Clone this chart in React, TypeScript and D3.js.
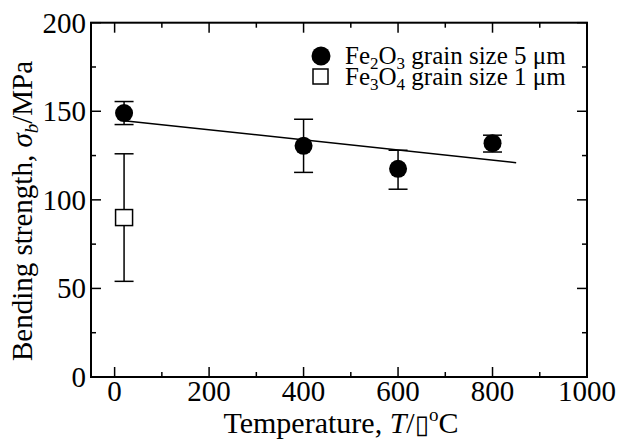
import React from "react";
import * as d3 from "d3";

// Fe2O3, grain size 5 um
const fe2o3Temp = [20, 400, 600, 800];
const fe2o3Strength = [149, 130.5, 117.5, 132];
const fe2o3Low = [142.5, 115.5, 106, 127];
const fe2o3High = [155.5, 145.5, 128, 136.5];

// Fe3O4, grain size 1 um
const fe3o4Temp = [20];
const fe3o4Strength = [90];
const fe3o4Low = [54];
const fe3o4High = [126];

// fitted line for Fe2O3
const fitTemp = [20, 850];
const fitStrength = [144.7, 121];

const xTicks = [0, 200, 400, 600, 800, 1000];
const yTicks = [0, 50, 100, 150, 200];

const W = 619;
const H = 439;
const FONT = "'Liberation Serif', 'Times New Roman', serif";

const App = () => {
  const x = d3.scaleLinear().domain([-50, 1000]).range([91, 587]);
  const y = d3.scaleLinear().domain([0, 200]).range([377, 22.7]);

  const [x0, x1] = x.range();
  const [y0, y1] = y.range();

  const xMinor = d3.range(0, 1001, 100).filter(d => d % 200 !== 0);
  const yMinor = d3.range(0, 201, 25).filter(d => d % 50 !== 0);

  const line = d3.line<number>()
    .x((_, i) => x(fitTemp[i]))
    .y(d => y(d));

  const capW = 9.5;
  const errBar = (t: number, lo: number, hi: number, key: string) => (
    <g key={key} stroke="#000" strokeWidth={1.5}>
      <line x1={x(t)} x2={x(t)} y1={y(lo)} y2={y(hi)} />
      <line x1={x(t) - capW} x2={x(t) + capW} y1={y(lo)} y2={y(lo)} />
      <line x1={x(t) - capW} x2={x(t) + capW} y1={y(hi)} y2={y(hi)} />
    </g>
  );

  return (
    <svg width={W} height={H} style={{ position: "absolute", left: 0, top: 0, background: "#fff", fontFamily: FONT }}>
      {/* fit line */}
      <path d={line(fitStrength) || ""} fill="none" stroke="#000" strokeWidth={1.5} />

      {/* error bars */}
      {fe2o3Temp.map((t, i) => errBar(t, fe2o3Low[i], fe2o3High[i], "a" + i))}
      {fe3o4Temp.map((t, i) => errBar(t, fe3o4Low[i], fe3o4High[i], "b" + i))}

      {/* markers */}
      {fe2o3Temp.map((t, i) => (
        <circle key={"c" + i} cx={x(t)} cy={y(fe2o3Strength[i])} r={9} fill="#000" />
      ))}
      {fe3o4Temp.map((t, i) => (
        <rect key={"s" + i} x={x(t) - 8.5} y={y(fe3o4Strength[i]) - 8} width={17} height={16}
          fill="#fff" stroke="#000" strokeWidth={1.5} />
      ))}

      {/* frame */}
      <rect x={x0} y={y1} width={x1 - x0} height={y0 - y1} fill="none" stroke="#000" strokeWidth={2} />

      {/* ticks */}
      <g stroke="#000" strokeWidth={1.5}>
        {xTicks.map(d => (
          <g key={"xt" + d}>
            <line x1={x(d)} x2={x(d)} y1={y0} y2={y0 - 10} />
            <line x1={x(d)} x2={x(d)} y1={y1} y2={y1 + 10} />
          </g>
        ))}
        {xMinor.map(d => (
          <g key={"xm" + d}>
            <line x1={x(d)} x2={x(d)} y1={y0} y2={y0 - 5} />
            <line x1={x(d)} x2={x(d)} y1={y1} y2={y1 + 5} />
          </g>
        ))}
        {yTicks.map(d => (
          <g key={"yt" + d}>
            <line x1={x0} x2={x0 + 10} y1={y(d)} y2={y(d)} />
            <line x1={x1} x2={x1 - 10} y1={y(d)} y2={y(d)} />
          </g>
        ))}
        {yMinor.map(d => (
          <g key={"ym" + d}>
            <line x1={x0} x2={x0 + 5} y1={y(d)} y2={y(d)} />
            <line x1={x1} x2={x1 - 5} y1={y(d)} y2={y(d)} />
          </g>
        ))}
      </g>

      {/* tick labels */}
      <g fontSize={29} fill="#000">
        {xTicks.map(d => (
          <text key={"xl" + d} x={x(d)} y={401} textAnchor="middle">{d}</text>
        ))}
        {yTicks.map(d => (
          <text key={"yl" + d} x={86} y={y(d) + 10} textAnchor="end">{d}</text>
        ))}
      </g>

      {/* axis titles */}
      <text x={341} y={433} textAnchor="middle" fontSize={30}>
        {"Temperature,  "}<tspan fontStyle="italic">T</tspan>/<tspan fontFamily="'DejaVu Sans'" fontSize={26}>{"\u25AF"}</tspan><tspan dy={-12} fontSize={19}>o</tspan><tspan dy={12}>C</tspan>
      </text>
      <text transform="translate(32,211) rotate(-90)" textAnchor="middle" fontSize={29}>
        {"Bending strength, "}<tspan fontStyle="italic">σ</tspan><tspan fontStyle="italic" fontSize={19} dy={6}>b</tspan><tspan dy={-6}>/MPa</tspan>
      </text>

      {/* legend */}
      <circle cx={321} cy={56} r={9.5} fill="#000" />
      <text x={345} y={64} fontSize={25}>
        Fe<tspan fontSize={17} dy={5}>2</tspan><tspan dy={-5}>O</tspan><tspan fontSize={17} dy={5}>3</tspan><tspan dy={-5}>{" grain size 5 μm"}</tspan>
      </text>
      <rect x={313} y={69} width={15} height={15} fill="#fff" stroke="#000" strokeWidth={1.5} />
      <text x={345} y={85} fontSize={25}>
        Fe<tspan fontSize={17} dy={5}>3</tspan><tspan dy={-5}>O</tspan><tspan fontSize={17} dy={5}>4</tspan><tspan dy={-5}>{" grain size 1 μm"}</tspan>
      </text>
    </svg>
  );
};

export default App;
